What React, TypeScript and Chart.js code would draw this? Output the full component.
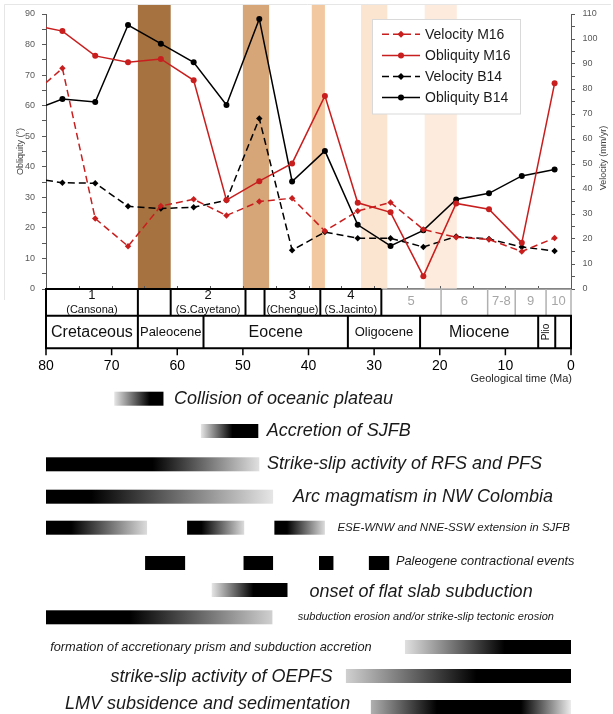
import React, { useEffect, useRef } from 'react';
import { Chart, registerables } from 'chart.js';

Chart.register(...registerables);

const FONT = "'Liberation Sans', Arial, Helvetica, sans-serif";
Chart.defaults.font.family = FONT;

// ---------- data ----------
const ages = [80, 77.5, 72.5, 67.5, 62.5, 57.5, 52.5, 47.5, 42.5, 37.5, 32.5, 27.5, 22.5, 17.5, 12.5, 7.5, 2.5];
const velocityM16 = [82.5, 88.3, 28.2, 17.1, 33.2, 35.9, 29.4, 35.0, 36.3, 23.2, 31.2, 34.6, 23.8, 20.7, 19.8, 15.0, 20.4];
const obliquityM16 = [85.5, 84.4, 76.3, 74.2, 75.3, 68.3, 29.1, 35.3, 41.1, 63.2, 28.2, 25.1, 4.2, 28.0, 26.1, 15.1, 67.3];
const velocityB14 = [43.5, 42.5, 42.3, 33.1, 32.2, 32.7, 35.5, 68.2, 15.5, 22.8, 20.3, 20.3, 16.8, 21.0, 20.0, 16.8, 15.2];
const obliquityB14 = [60.1, 62.2, 61.2, 86.4, 80.3, 74.2, 60.2, 88.4, 35.2, 45.2, 21.0, 14.1, 19.2, 29.3, 31.3, 37.0, 39.1];

const seriesLabels = ['Velocity M16', 'Obliquity M16', 'Velocity B14', 'Obliquity B14'];

const shadeStart = [66, 50, 39.5, 32, 22.3];
const shadeEnd = [61, 46, 37.5, 28, 17.4];

const stageBounds = [80, 66, 61, 49.6, 46.7, 38.2, 28.9, 19.8, 12.7, 8.5, 3.8, 0];
const stageNumbers = ['1', '', '2', '', '3', '4', '5', '6', '7-8', '9', '10'];
const stageNames = ['(Cansona)', '', '(S.Cayetano)', '', '(Chengue)', '(S.Jacinto)', '', '', '', '', ''];

const epochBounds = [80, 66, 56, 34, 23, 5.0, 2.4, 0];
const epochNames = ['Cretaceous', 'Paleocene', 'Eocene', 'Oligocene', 'Miocene', 'Plio', ''];

const eventNames = [
  'Collision of oceanic plateau',
  'Accretion of SJFB',
  'Strike-slip activity of RFS and PFS',
  'Arc magmatism in NW Colombia',
  'ESE-WNW and NNE-SSW extension in SJFB',
  'Paleogene contractional events',
  'onset of flat slab subduction',
  'subduction erosion and/or strike-slip tectonic erosion',
  'formation of accretionary prism and subduction accretion',
  'strike-slip activity of OEPFS',
  'LMV subsidence and sedimentation',
];
const eventSpans: number[][][] = [
  [[69.6, 62.1]],
  [[56.4, 47.65]],
  [[80, 47.5]],
  [[80, 45.4]],
  [[80, 64.6], [58.5, 49.8], [45.2, 37.5]],
  [[64.9, 58.8], [49.9, 45.4], [38.4, 36.2], [30.8, 27.7]],
  [[54.75, 43.2]],
  [[80, 45.5]],
  [[25.3, 0]],
  [[34.3, 0]],
  [[30.5, 0]],
];

// ---------- styles ----------
const RED = '#c81e1e';
const BLACK = '#000000';
const shadeColors = ['#a6723f', '#d6a678', '#f2c8a0', '#fbe4d0', '#fdecde'];
const stageMuted = [false, false, false, false, false, false, true, true, true, true, true];
const epochFontPx = [16, 13, 16, 13, 16, 10, 0];
const epochRotated = [false, false, false, false, false, true, false];

type Stop = [number, string];
const eventStyle: { y: number; ty: number; size: number; side: 'right' | 'left'; gap: number; ramp: Stop[] }[] = [
  { y: 398.7, ty: 398.7, size: 18, side: 'right', gap: 10.5, ramp: [[0, '#e6e6e6'], [0.72, '#000'], [1, '#000']] },
  { y: 431, ty: 431, size: 18, side: 'right', gap: 8.5, ramp: [[0, '#e6e6e6'], [0.55, '#000'], [1, '#000']] },
  { y: 464.3, ty: 464.3, size: 18, side: 'right', gap: 7.7, ramp: [[0, '#000'], [0.5, '#000'], [1, '#e0e0e0']] },
  { y: 496.7, ty: 496.7, size: 18, side: 'right', gap: 20, ramp: [[0, '#000'], [0.2, '#000'], [1, '#e6e6e6']] },
  { y: 527.7, ty: 528, size: 11.5, side: 'right', gap: 12.5, ramp: [[0, '#000'], [0.25, '#000'], [1, '#dcdcdc']] },
  { y: 563, ty: 561.7, size: 12.8, side: 'right', gap: 6.7, ramp: [[0, '#000'], [1, '#000']] },
  { y: 590, ty: 591.5, size: 18, side: 'right', gap: 22, ramp: [[0, '#e6e6e6'], [0.55, '#000'], [1, '#000']] },
  { y: 617.3, ty: 617.3, size: 11, side: 'right', gap: 25.3, ramp: [[0, '#000'], [0.37, '#000'], [1, '#d0d0d0']] },
  { y: 647, ty: 647.3, size: 12.8, side: 'left', gap: 33.3, ramp: [[0, '#e0e0e0'], [0.6, '#000'], [1, '#000']] },
  { y: 676, ty: 676.7, size: 18, side: 'left', gap: 13.4, ramp: [[0, '#d0d0d0'], [0.58, '#000'], [1, '#000']] },
  { y: 707, ty: 704, size: 18, side: 'left', gap: 20.7, ramp: [[0, '#b0b0b0'], [0.33, '#000'], [0.75, '#000'], [1, '#ececec']] },
];

const decorPlugin = {
  id: 'decor',
  beforeDraw(chart: any) {
    const { ctx } = chart;
    ctx.save();
    ctx.strokeStyle = '#e6e6e6';
    ctx.lineWidth = 1;
    ctx.beginPath();
    ctx.moveTo(4.5, 4.5);
    ctx.lineTo(611, 4.5);
    ctx.moveTo(4.5, 4.5);
    ctx.lineTo(4.5, 300);
    ctx.stroke();
    ctx.restore();
  },
  beforeDatasetsDraw(chart: any) {
    const { ctx, chartArea, scales } = chart;
    const xs = scales.x;
    ctx.save();
    shadeStart.forEach((s, i) => {
      const x0 = xs.getPixelForValue(s);
      const x1 = xs.getPixelForValue(shadeEnd[i]);
      ctx.fillStyle = shadeColors[i];
      ctx.fillRect(x0, 5, x1 - x0, chartArea.bottom - 5);
    });
    ctx.restore();
  },
  afterDraw(chart: any) {
    const { ctx, chartArea, scales } = chart;
    const xs = scales.x;
    const px = (v: number) => xs.getPixelForValue(v);
    ctx.save();

    // ---- right axis title ----
    ctx.save();
    ctx.translate(603.3, 158);
    ctx.rotate(-Math.PI / 2);
    ctx.font = `9px ${FONT}`;
    ctx.fillStyle = '#404040';
    ctx.textAlign = 'center';
    ctx.textBaseline = 'middle';
    ctx.fillText('Velocity (mm/yr)', 0, 0);
    ctx.restore();

    // ---- legend ----
    const lx = 372.5, ly = 19.5, lw = 148, lh = 94.5;
    ctx.fillStyle = '#fff';
    ctx.fillRect(lx, ly, lw, lh);
    ctx.strokeStyle = '#d9d9d9';
    ctx.lineWidth = 1;
    ctx.strokeRect(lx, ly, lw, lh);
    chart.data.datasets.forEach((ds: any, i: number) => {
      const y = 34.3 + i * 21.1;
      ctx.strokeStyle = ds.borderColor;
      ctx.lineWidth = 1.5;
      ctx.setLineDash(ds.borderDash || []);
      ctx.beginPath();
      ctx.moveTo(382, y);
      ctx.lineTo(420, y);
      ctx.stroke();
      ctx.setLineDash([]);
      ctx.fillStyle = ds.borderColor;
      ctx.beginPath();
      if (ds.pointStyle === 'circle') {
        ctx.arc(401, y, 3, 0, Math.PI * 2);
      } else {
        ctx.moveTo(401, y - 3.5);
        ctx.lineTo(404.5, y);
        ctx.lineTo(401, y + 3.5);
        ctx.lineTo(397.5, y);
        ctx.closePath();
      }
      ctx.fill();
      ctx.fillStyle = '#1a1a1a';
      ctx.font = `14px ${FONT}`;
      ctx.textAlign = 'left';
      ctx.textBaseline = 'middle';
      ctx.fillText(ds.label, 425, y + 0.5);
    });

    // ---- stage / epoch table ----
    const sTop = chartArea.bottom;
    const sBot = sTop + 26.7;
    const eBot = sBot + 32.6;
    const left = px(80), right = px(0);
    ctx.fillStyle = '#fff';
    ctx.fillRect(left, sTop + 1, right - left, eBot - sTop - 1);

    ctx.strokeStyle = '#595959';
    ctx.lineWidth = 1;
    ctx.beginPath();
    for (let v = 5; v < 80; v += 5) {
      const x = Math.round(px(v)) + 0.5;
      ctx.moveTo(x, sTop);
      ctx.lineTo(x, sTop - 3);
    }
    ctx.stroke();

    const muteIdx = stageMuted.indexOf(true);
    const splitX = px(stageBounds[muteIdx]);
    ctx.lineWidth = 1.5;
    ctx.strokeStyle = '#b0b0b0';
    ctx.beginPath();
    ctx.moveTo(splitX, sTop);
    ctx.lineTo(right, sTop);
    ctx.stroke();
    ctx.lineWidth = 2;
    ctx.strokeStyle = BLACK;
    ctx.beginPath();
    ctx.moveTo(left, sTop);
    ctx.lineTo(splitX, sTop);
    ctx.stroke();

    stageBounds.forEach((b, i) => {
      const leftCell = i > 0 ? stageMuted[i - 1] : true;
      const rightCell = i < stageMuted.length ? stageMuted[i] : true;
      const black = !(leftCell && rightCell);
      ctx.strokeStyle = black ? BLACK : '#b0b0b0';
      ctx.lineWidth = black ? 2 : 1.5;
      const x = px(b);
      ctx.beginPath();
      ctx.moveTo(x, sTop);
      ctx.lineTo(x, sBot);
      ctx.stroke();
    });
    ctx.strokeStyle = BLACK;
    ctx.lineWidth = 2;
    ctx.beginPath();
    ctx.moveTo(left - 1, sBot);
    ctx.lineTo(right + 1, sBot);
    ctx.moveTo(left - 1, eBot);
    ctx.lineTo(right + 1, eBot);
    ctx.stroke();
    epochBounds.forEach((b) => {
      const x = px(b);
      ctx.beginPath();
      ctx.moveTo(x, sBot);
      ctx.lineTo(x, eBot);
      ctx.stroke();
    });
    ctx.lineWidth = 1.5;
    ctx.beginPath();
    xs.ticks.forEach((t: any) => {
      const x = px(t.value);
      ctx.moveTo(x, eBot);
      ctx.lineTo(x, eBot + 7);
    });
    ctx.stroke();

    ctx.textAlign = 'center';
    ctx.textBaseline = 'middle';
    stageNumbers.forEach((n, i) => {
      if (!n) return;
      const cx = (px(stageBounds[i]) + px(stageBounds[i + 1])) / 2;
      ctx.fillStyle = stageMuted[i] ? '#a6a6a6' : '#111';
      ctx.font = `13px ${FONT}`;
      if (stageNames[i]) {
        ctx.fillText(n, cx, sTop + 6.5);
        ctx.font = `11px ${FONT}`;
        ctx.fillText(stageNames[i], cx, sTop + 20.5);
      } else {
        ctx.fillText(n, cx, sTop + 12.5);
      }
    });
    epochNames.forEach((n, i) => {
      if (!n) return;
      const cx = (px(epochBounds[i]) + px(epochBounds[i + 1])) / 2;
      const cy = (sBot + eBot) / 2;
      ctx.fillStyle = '#111';
      ctx.font = `${epochFontPx[i]}px ${FONT}`;
      if (epochRotated[i]) {
        ctx.save();
        ctx.translate(cx, cy);
        ctx.rotate(-Math.PI / 2);
        ctx.fillText(n, 0, 0);
        ctx.restore();
      } else {
        ctx.fillText(n, cx, cy + 0.5);
      }
    });

    ctx.font = `11px ${FONT}`;
    ctx.fillStyle = '#262626';
    ctx.textAlign = 'right';
    ctx.fillText('Geological time (Ma)', right + 1, 378.5);

    // ---- events ----
    eventNames.forEach((name, i) => {
      const st = eventStyle[i];
      const spans = eventSpans[i];
      spans.forEach(([a, b]) => {
        const x0 = px(a), x1 = px(b);
        const g = ctx.createLinearGradient(x0, 0, x1, 0);
        st.ramp.forEach(([p, c]) => g.addColorStop(p, c));
        ctx.fillStyle = g;
        ctx.fillRect(x0, st.y - 7, x1 - x0, 14);
      });
      ctx.font = `italic ${st.size}px ${FONT}`;
      ctx.fillStyle = '#1a1a1a';
      ctx.textBaseline = 'middle';
      if (st.side === 'right') {
        ctx.textAlign = 'left';
        ctx.fillText(name, px(spans[spans.length - 1][1]) + st.gap, st.ty);
      } else {
        ctx.textAlign = 'right';
        ctx.fillText(name, px(spans[0][0]) - st.gap, st.ty);
      }
    });

    ctx.restore();
  },
};

function series(label: string, values: number[], axis: string, color: string, dashed: boolean, round: boolean) {
  return {
    label,
    data: ages.map((a, i) => ({ x: a, y: values[i] })),
    yAxisID: axis,
    borderColor: color,
    backgroundColor: color,
    borderWidth: 1.5,
    borderDash: dashed ? [7, 4] : [],
    pointStyle: round ? 'circle' : 'rectRot',
    pointRadius: (c: any) => (c.dataIndex === 0 ? 0 : round ? 3 : 3.2),
    pointHoverRadius: 0,
    pointBorderWidth: 0,
    tension: 0,
    fill: false,
  };
}

export default function App() {
  const ref = useRef<HTMLCanvasElement>(null);
  useEffect(() => {
    const canvas = ref.current;
    if (!canvas) return;
    const tickCb = (v: any) => (Number(v) % 10 === 0 ? String(v) : '');
    const chart = new Chart(canvas, {
      type: 'line',
      data: {
        datasets: [
          series(seriesLabels[0], velocityM16, 'yV', RED, true, false),
          series(seriesLabels[1], obliquityM16, 'yO', RED, false, true),
          series(seriesLabels[2], velocityB14, 'yV', BLACK, true, false),
          series(seriesLabels[3], obliquityB14, 'yO', BLACK, false, true),
        ] as any,
      },
      options: {
        responsive: false,
        animation: false,
        devicePixelRatio: 1,
        events: [],
        layout: { padding: { top: 14, left: 0, right: 0, bottom: 0 } },
        plugins: { legend: { display: false }, tooltip: { enabled: false }, title: { display: false } },
        scales: {
          x: {
            type: 'linear',
            position: 'bottom',
            min: 0,
            max: 80,
            reverse: true,
            grid: { display: false, drawTicks: true, tickLength: 69 },
            border: { display: true, color: '#000', width: 1.5 },
            ticks: { stepSize: 10, padding: 0, font: { size: 14 }, color: '#000', maxRotation: 0, autoSkip: false },
            afterFit: (s: any) => { s.height = 425; s.paddingLeft = 0; s.paddingRight = 0; },
          },
          yO: {
            type: 'linear',
            position: 'left',
            min: 0,
            max: 90,
            grid: { display: true, drawOnChartArea: false, drawTicks: true, tickLength: 4, color: '#595959' },
            border: { display: true, color: '#595959', width: 1 },
            ticks: { stepSize: 5, callback: tickCb, padding: 7, font: { size: 9 }, color: '#595959', autoSkip: false },
            title: { display: true, text: 'Obliquity (°)', font: { size: 9 }, color: '#404040', padding: { top: 15.3, bottom: 0 } },
            afterFit: (s: any) => { s.width = 46; },
          },
          yV: {
            type: 'linear',
            position: 'right',
            min: 0,
            max: 110,
            grid: { display: true, drawOnChartArea: false, drawTicks: true, tickLength: 4, color: '#595959' },
            border: { display: true, color: '#595959', width: 1 },
            ticks: { stepSize: 5, callback: tickCb, padding: 7.5, font: { size: 9 }, color: '#595959', autoSkip: false },
            afterFit: (s: any) => { s.width = 42; },
          },
        },
      } as any,
      plugins: [decorPlugin],
    });
    return () => chart.destroy();
  }, []);
  return (
    <div style={{ position: 'fixed', left: 0, top: 0, width: 613, height: 714, background: '#fff' }}>
      <canvas ref={ref} width={613} height={714} style={{ display: 'block', width: 613, height: 714 }} />
    </div>
  );
}
